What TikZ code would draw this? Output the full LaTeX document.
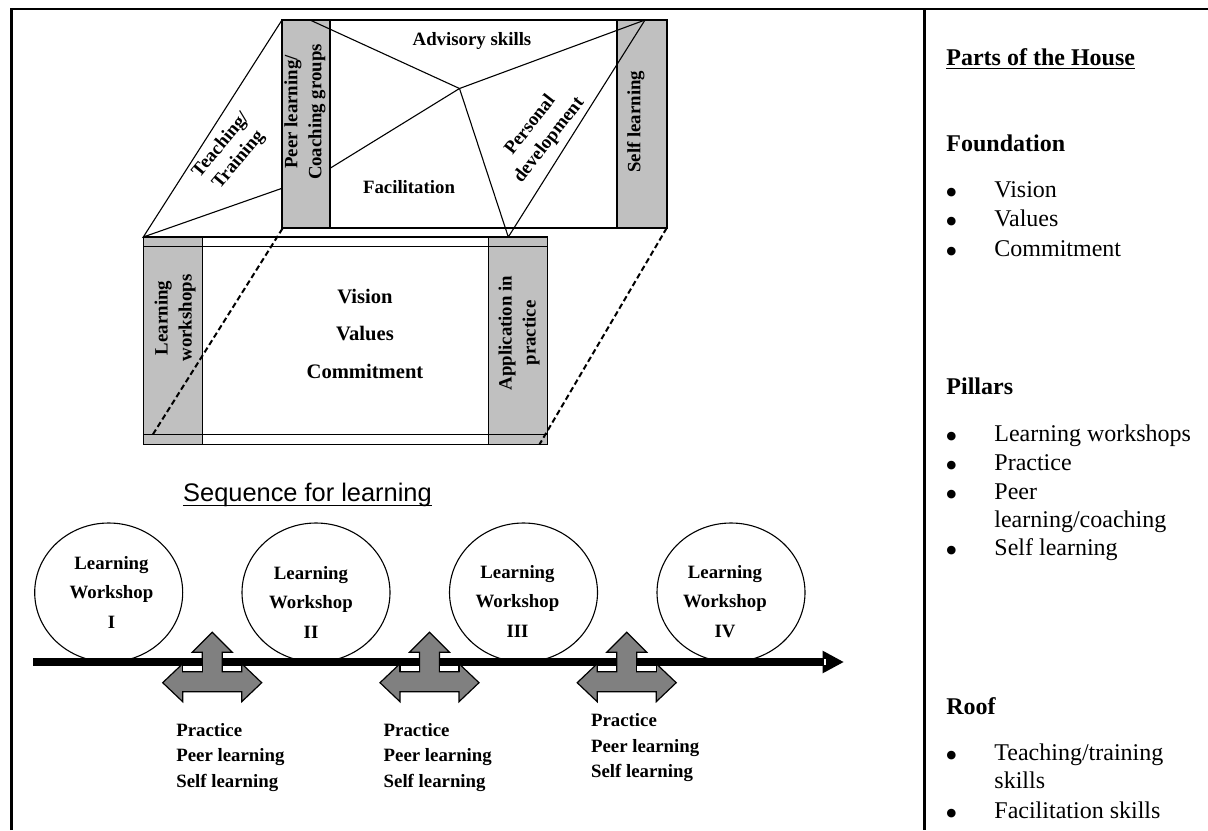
\documentclass[tikz,border=0pt]{standalone}
\usepackage{fontspec}
\setmainfont{Liberation Serif}
\newfontfamily\arialfont{Liberation Sans}
\usetikzlibrary{arrows.meta,shapes.geometric}
\definecolor{pillargray}{HTML}{C0C0C0}
\definecolor{arrowgray}{HTML}{808080}
\newcommand\cstack[2]{\vtop{\baselineskip=#1\relax\halign{\hfil##\hfil\cr#2\crcr}}}
\newcommand\lstack[2]{\vtop{\baselineskip=#1\relax\halign{##\hfil\cr#2\crcr}}}
\newcommand\mybul{\raisebox{-4pt}[0pt][0pt]{\textbullet}}
\tikzset{
  frame/.style={line width=1.3pt, line join=miter},
  wall/.style={draw, line width=0.65pt},
  pillar/.style={draw, fill=pillargray, line width=0.65pt},
  roofline/.style={line width=0.55pt},
  hidden/.style={line width=1pt, dash pattern=on 2.8pt off 1.6pt},
  lab/.style={font=\fontsize{9.4}{11}\selectfont\bfseries, inner sep=0pt},
  biglab/.style={font=\fontsize{10.3}{12}\selectfont\bfseries, inner sep=0pt},
  panel/.style={font=\fontsize{12}{14}\selectfont, inner sep=0pt, anchor=base west},
  panelhead/.style={panel, font=\fontsize{12}{14}\selectfont\bfseries},
  bul/.style={panel, font=\fontsize{18}{18}\selectfont},
  workshop/.style={draw, ellipse, fill=white, line width=0.55pt, minimum width=74pt, minimum height=69.5pt, inner sep=0pt},
  xarrow/.pic={
    \draw[fill=arrowgray, line width=0.6pt]
      (0,-49.5) -- (20,-29.5) -- (10,-29.5) -- (10,-10) -- (29.5,-10) -- (29.5,-18)
      -- (49.5,1) -- (29.5,20) -- (29.5,10) -- (-29.5,10) -- (-29.5,20) -- (-49.5,1)
      -- (-29.5,-18) -- (-29.5,-10) -- (-10,-10) -- (-10,-29.5) -- (-20,-29.5) -- cycle;
    \draw[fill=white, line width=0.6pt] (-29.5,-16) rectangle (-10,-10);
    \draw[fill=white, line width=0.6pt] (10,-16) rectangle (29.5,-10);
  }
}
\begin{document}
\begin{tikzpicture}[x=0.5pt,y=-0.5pt]
\useasboundingbox (0,0) rectangle (1208,830);
% ---------- frame ----------
\coordinate (fBL) at (11.5,830);
\coordinate (fTL) at (11.5,9);
\coordinate (fTR) at (1208,9);
\coordinate (dT) at (924.5,9);
\coordinate (dB) at (924.5,830);
\draw[frame] (fBL) -- (fTL) -- (fTR);
\draw[frame] (dT) -- (dB);

% ---------- back part (roof level) ----------
\draw[wall, fill=white] (282,20) rectangle (667,228);
\draw[pillar] (282,20) rectangle (330,228);
\draw[pillar] (617,20) rectangle (667,228);
\coordinate (A) at (282,20);
\coordinate (B) at (143.3,237);
\coordinate (C) at (282,188.3);
\coordinate (D) at (330,168.3);
\coordinate (E) at (459.5,88.5);
\coordinate (F) at (310,20);
\coordinate (G) at (645,20);
\coordinate (H) at (508.3,237);
\draw[roofline] (A) -- (B) -- (C);
\draw[roofline] (D) -- (E);
\draw[roofline] (F) -- (E);
\draw[roofline] (E) -- (G);
\draw[roofline] (E) -- (H) -- (G);

% ---------- front part (foundation) ----------
\draw[wall, fill=white] (143.3,237) rectangle (547.7,444.7);
\draw[pillar] (143.3,237) rectangle (202.3,444.7);
\draw[pillar] (488.7,237) rectangle (547.7,444.7);
\coordinate (bandTL) at (143.3,246.7);
\coordinate (bandTR) at (547.7,246.7);
\coordinate (bandBL) at (143.3,434.7);
\coordinate (bandBR) at (547.7,434.7);
\draw[wall] (bandTL) -- (bandTR);
\draw[wall] (bandBL) -- (bandBR);
\coordinate (backBL) at (282.5,228.5);
\coordinate (backBR) at (666.7,228);
\coordinate (frontL) at (152.7,434.7);
\coordinate (frontR) at (539.3,444.7);
\draw[hidden] (backBL) -- (frontL);
\draw[hidden] (backBR) -- (frontR);

% ---------- house labels ----------
\node[lab, anchor=base] (advisory) at (472,45) {Advisory skills};
\node[lab, anchor=base] (facil) at (409,193) {Facilitation};
\node[lab, rotate=50] (teach) at (230,153) {\cstack{11.5pt}{Teaching/\cr Training}};
\node[lab, rotate=52] (personal) at (540,133) {\cstack{12pt}{Personal\cr development}};
\node[lab, rotate=90] (peer) at (305,112) {\cstack{12pt}{Peer learning/\cr Coaching groups}};
\node[lab, rotate=90] (selfl) at (635.7,121.7) {Self learning};
\node[lab, rotate=90] (lws) at (175,318) {\cstack{12pt}{Learning\cr workshops}};
\node[lab, rotate=90] (appl) at (519,333) {\cstack{12pt}{Application in\cr practice}};
\node[biglab, anchor=base] (vvc) at (365,303) {\cstack{18.75pt}{Vision\cr Values\cr Commitment}};

% ---------- sequence for learning ----------
\node[font=\arialfont\fontsize{12.7}{15}\selectfont, inner sep=0pt, anchor=base] (seq) at (307.5,501) {Sequence for learning};
\draw[line width=0.75pt] ([yshift=-2.35pt]seq.base west) -- ([yshift=-2.35pt]seq.base east);

\node[workshop] (w1) at (108.7,592.5) {};
\node[workshop] (w2) at (316,592.5) {};
\node[workshop] (w3) at (523.5,592.5) {};
\node[workshop] (w4) at (731,592.5) {};
\node[lab, anchor=base] (w1t) at (111.5,569) {\cstack{14.75pt}{Learning\cr Workshop\cr I}};
\node[lab, anchor=base] (w2t) at (311,579) {\cstack{14.75pt}{Learning\cr Workshop\cr II}};
\node[lab, anchor=base] (w3t) at (517.5,578) {\cstack{14.75pt}{Learning\cr Workshop\cr III}};
\node[lab, anchor=base] (w4t) at (725,578) {\cstack{14.75pt}{Learning\cr Workshop\cr IV}};

\coordinate (axL) at (33,662);
\coordinate (axR) at (844,662);
\draw[line width=4pt, -{Triangle[length=10.7pt,width=10.5pt]}] (axL) -- (axR);
\fill[white] (823.5,659.4) rectangle (825.7,665.2);

\pic at (212.2,681.7) {xarrow};
\pic at (429.5,681.7) {xarrow};
\pic at (626.7,681.7) {xarrow};

\node[lab, anchor=base west] (p1) at (176,736) {\lstack{12.75pt}{Practice\cr Peer learning\cr Self learning}};
\node[lab, anchor=base west] (p2) at (383.3,736) {\lstack{12.75pt}{Practice\cr Peer learning\cr Self learning}};
\node[lab, anchor=base west] (p3) at (590.7,726.7) {\lstack{12.75pt}{Practice\cr Peer learning\cr Self learning}};

% ---------- right panel ----------
\node[panelhead] (parts) at (946,65.7) {Parts of the House};
\draw[line width=0.6pt] ([yshift=-1.4pt]parts.base west) -- ([yshift=-1.4pt]parts.base east);
\node[panelhead] (found) at (946,151.7) {Foundation};
\node[bul] (b1) at (944.8,196.3) {\mybul}; \node[panel] (t1) at (994,197.3) {Vision};
\node[bul] (b2) at (944.8,225) {\mybul}; \node[panel] (t2) at (994,226) {Values};
\node[bul] (b3) at (944.8,255) {\mybul}; \node[panel] (t3) at (994,256) {Commitment};
\node[panelhead] (pill) at (946,394.3) {Pillars};
\node[bul] (b4) at (944.8,440) {\mybul}; \node[panel] (t4) at (994,441) {Learning workshops};
\node[bul] (b5) at (944.8,469) {\mybul}; \node[panel] (t5) at (994,470) {Practice};
\node[bul] (b6) at (944.8,498) {\mybul}; \node[panel] (t6) at (994,499) {\lstack{14pt}{Peer\cr learning/coaching}};
\node[bul] (b7) at (944.8,554.7) {\mybul}; \node[panel] (t7) at (994,555.7) {Self learning};
\node[panelhead] (roof) at (946,714) {Roof};
\node[bul] (b8) at (944.8,759) {\mybul}; \node[panel] (t8) at (994,760) {\lstack{14pt}{Teaching/training\cr skills}};
\node[bul] (b9) at (944.8,817) {\mybul}; \node[panel] (t9) at (994,818) {Facilitation skills};
\end{tikzpicture}
\end{document}
